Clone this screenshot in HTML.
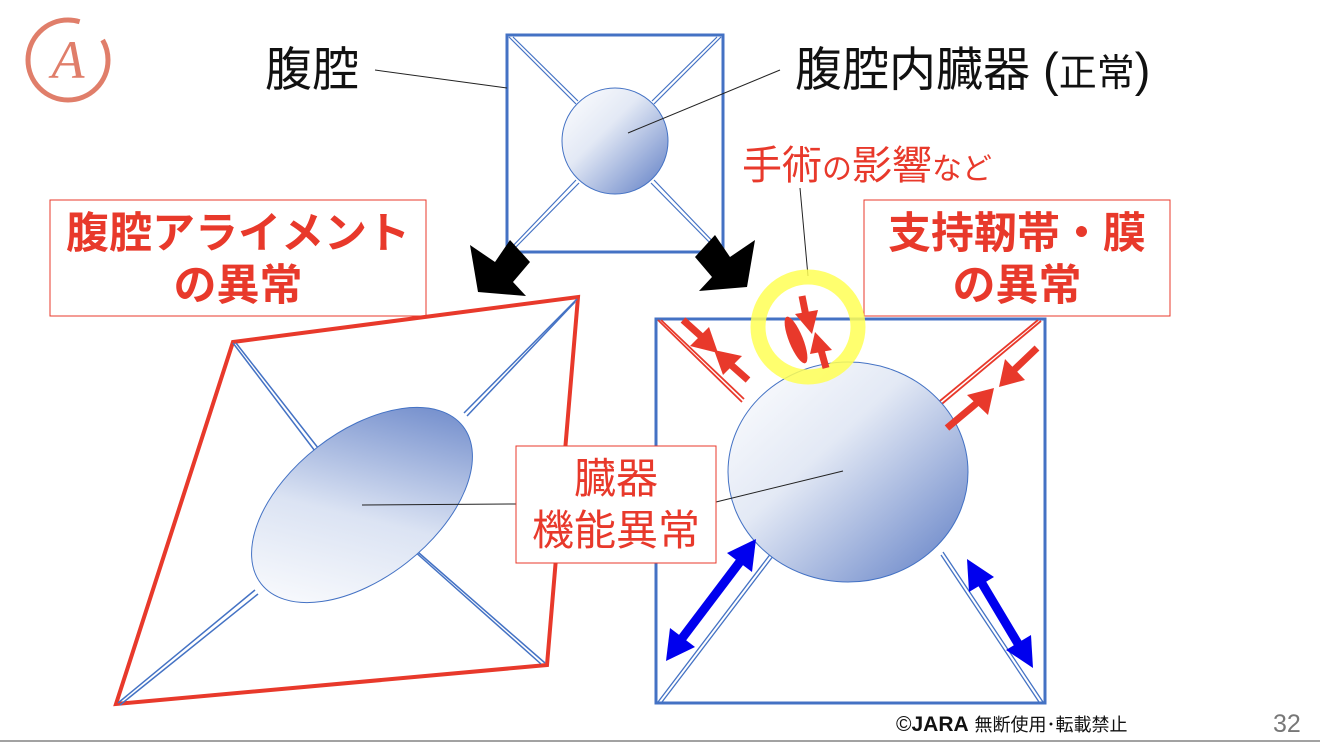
<!DOCTYPE html>
<html><head><meta charset="utf-8"><style>
body{margin:0;background:#fff;}
svg{display:block;font-family:"Liberation Sans","Noto Sans CJK JP",sans-serif;}
</style></head><body>
<svg width="1320" height="743" viewBox="0 0 1320 743" xmlns="http://www.w3.org/2000/svg">
<defs>
<linearGradient id="g1" x1="0" y1="0" x2="1" y2="1"><stop offset="0" stop-color="#ffffff"/><stop offset="0.4" stop-color="#e3e9f5"/><stop offset="1" stop-color="#5d7cc4"/></linearGradient>
<linearGradient id="g2" gradientUnits="userSpaceOnUse" x1="255" y1="595" x2="478" y2="420"><stop offset="0" stop-color="#ffffff"/><stop offset="0.45" stop-color="#dbe3f3"/><stop offset="1" stop-color="#5d7cc4"/></linearGradient>
</defs>
<!-- logo -->
<circle cx="68" cy="60" r="40" fill="none" stroke="#e07e6a" stroke-width="5" stroke-dasharray="200 30"/>
<text x="68" y="78" font-family="Liberation Serif,serif" font-style="italic" font-size="54" fill="#e07e6a" text-anchor="middle">A</text>

<!-- top box -->
<g stroke="#4472c4" fill="none">
<rect x="507" y="35" width="216" height="217" stroke-width="3"/>
<g stroke-width="1.2">
<line x1="509" y1="37" x2="576" y2="104"/><line x1="513" y1="37" x2="578" y2="101"/>
<line x1="721" y1="37" x2="654" y2="104"/><line x1="717" y1="37" x2="652" y2="101"/>
<line x1="509" y1="250" x2="576" y2="180"/><line x1="513" y1="250" x2="579" y2="183"/>
<line x1="721" y1="250" x2="654" y2="180"/><line x1="717" y1="250" x2="651" y2="183"/>
</g>
</g>
<circle cx="615" cy="141" r="53" fill="url(#g1)" stroke="#4472c4" stroke-width="1"/>

<text x="265" y="86" font-size="47" fill="#111">腹腔</text>
<line x1="375" y1="70" x2="507" y2="88" stroke="#222" stroke-width="1"/>
<text x="795" y="86" font-size="47" fill="#111">腹腔内臓器 (<tspan font-size="38">正常</tspan>)</text>
<line x1="780" y1="70" x2="628" y2="133" stroke="#222" stroke-width="1"/>

<text x="742" y="179" font-size="40" fill="#e8392b">手術<tspan font-size="30">の</tspan>影響<tspan font-size="30">など</tspan></text>
<line x1="800" y1="188" x2="808" y2="276" stroke="#222" stroke-width="1"/>

<!-- black arrows -->
<polygon points="470,245 495,262 510,240 530,262 513,282 526,296 478,292" fill="#000"/>
<polygon points="755,245 730,262 715,240 695,262 712,282 699,296 747,292" fill="#000" transform="translate(0,-5)"/>

<!-- red label boxes -->
<rect x="50" y="200" width="376" height="116" fill="#fff" stroke="#e8392b" stroke-width="1"/>
<text x="238" y="248" font-size="43" font-weight="bold" fill="#e8392b" text-anchor="middle">腹腔アライメント</text>
<text x="238" y="300" font-size="43" font-weight="bold" fill="#e8392b" text-anchor="middle">の異常</text>
<rect x="864" y="200" width="306" height="116" fill="#fff" stroke="#e8392b" stroke-width="1"/>
<text x="1017" y="248" font-size="43" font-weight="bold" fill="#e8392b" text-anchor="middle">支持靭帯・膜</text>
<text x="1017" y="300" font-size="43" font-weight="bold" fill="#e8392b" text-anchor="middle">の異常</text>

<!-- left distorted -->
<polygon points="233,342 578,297 547,665 116,704" fill="none" stroke="#e8392b" stroke-width="4"/>
<g stroke="#4472c4" stroke-width="1.5" fill="none">
<line x1="233" y1="343" x2="318" y2="455"/><line x1="236" y1="343" x2="322" y2="453"/>
<line x1="577" y1="299" x2="464" y2="413"/><line x1="575" y1="302" x2="467" y2="416"/>
<line x1="118" y1="703" x2="255" y2="590"/><line x1="120" y1="705" x2="258" y2="594"/>
<line x1="545" y1="663" x2="411" y2="546"/><line x1="541" y1="664" x2="413" y2="550"/>
</g>
<ellipse cx="362" cy="505" rx="128" ry="73" transform="rotate(-38 362 505)" fill="url(#g2)" stroke="#4472c4" stroke-width="1"/>
<line x1="362" y1="505" x2="516" y2="504" stroke="#222" stroke-width="1"/>

<!-- right box -->
<rect x="656" y="319" width="389" height="384" fill="none" stroke="#4472c4" stroke-width="3"/>
<g stroke-width="1.8" fill="none">
<line x1="658" y1="320" x2="742" y2="402" stroke="#e8392b"/><line x1="661" y1="320" x2="744" y2="399" stroke="#e8392b"/>
<line x1="1041" y1="321" x2="937" y2="408" stroke="#e8392b"/><line x1="1038" y1="320" x2="935" y2="405" stroke="#e8392b"/>
<line x1="658" y1="702" x2="778" y2="544" stroke="#4472c4" stroke-width="1.3"/><line x1="662" y1="702" x2="780" y2="547" stroke="#4472c4" stroke-width="1.3"/>
<line x1="1043" y1="702" x2="943" y2="552" stroke="#4472c4" stroke-width="1.3"/><line x1="1039" y1="702" x2="941" y2="555" stroke="#4472c4" stroke-width="1.3"/>
</g>
<ellipse cx="848" cy="472" rx="120" ry="110" fill="url(#g1)" stroke="#4472c4" stroke-width="1"/>
<line x1="716" y1="502" x2="843" y2="471" stroke="#222" stroke-width="1"/>

<!-- yellow ring -->
<circle cx="808" cy="327" r="50" fill="none" stroke="#ffff55" stroke-opacity="0.85" stroke-width="15"/>
<!-- red arrows -->
<g stroke="#e8392b" stroke-width="7" fill="#e8392b">
<line x1="683" y1="320" x2="703" y2="338"/><polygon points="718,353 690,346 709,327" stroke="none"/>
<line x1="748" y1="380" x2="730" y2="364"/><polygon points="714,350 742,356 723,375" stroke="none"/>
<line x1="1037" y1="348" x2="1014" y2="370"/><polygon points="999,387 1005,359 1025,380" stroke="none"/>
<line x1="947" y1="428" x2="978" y2="402"/><polygon points="994,388 988,415 967,395" stroke="none"/>
<line x1="802" y1="296" x2="806" y2="316"/><polygon points="812,334 795,314 818,310" stroke="none"/>
<line x1="826" y1="368" x2="821" y2="350"/><polygon points="815,332 832,350 810,354" stroke="none"/>
</g>
<ellipse cx="796" cy="340" rx="7" ry="25" transform="rotate(-22 796 340)" fill="#e8392b"/>
<!-- blue double arrows -->
<g stroke="#0000ee" stroke-width="9" fill="#0000ee">
<line x1="680" y1="641" x2="742" y2="559"/>
<polygon points="666,661 670,628 695,647" stroke="none"/>
<polygon points="756,539 752,572 727,553" stroke="none"/>
<line x1="1020" y1="647" x2="980" y2="580"/>
<polygon points="1033,668 1006,650 1031,635" stroke="none"/>
<polygon points="967,559 994,577 969,592" stroke="none"/>
</g>

<!-- center label -->
<rect x="516" y="446" width="200" height="117" fill="#fff" stroke="#e8392b" stroke-width="1"/>
<text x="616" y="493" font-size="42" fill="#e8392b" text-anchor="middle">臓器</text>
<text x="616" y="545" font-size="42" fill="#e8392b" text-anchor="middle">機能異常</text>

<!-- footer -->
<text x="896" y="731" font-size="21" fill="#111">©<tspan font-weight="bold">JARA</tspan> <tspan font-size="18">無断使用･転載禁止</tspan></text>
<text x="1273" y="732" font-size="25" fill="#777">32</text>
<line x1="0" y1="741" x2="1320" y2="741" stroke="#444" stroke-width="1"/>
</svg>
</body></html>
